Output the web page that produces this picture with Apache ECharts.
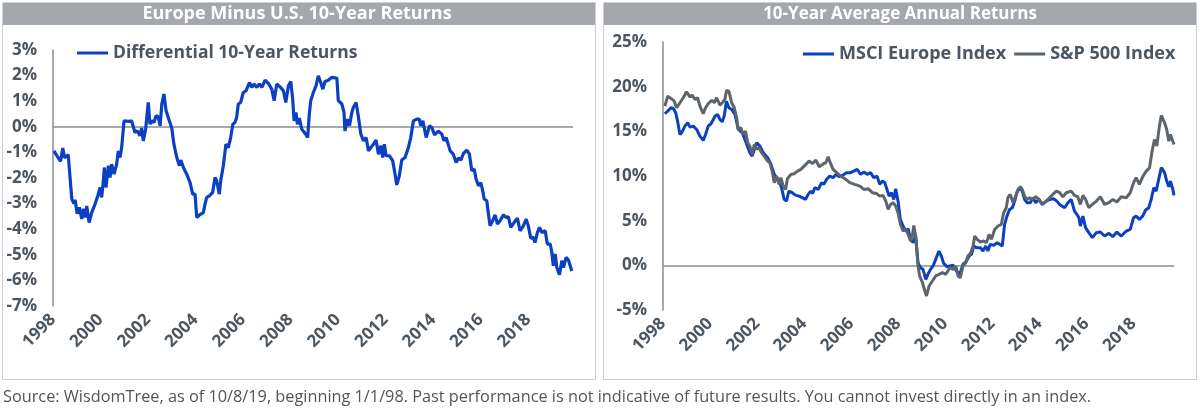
<!DOCTYPE html>
<html>
<head>
<meta charset="utf-8">
<script src="https://cdn.jsdelivr.net/npm/echarts@6/dist/echarts.min.js"></script>
<style>
  html, body { margin: 0; padding: 0; background: #fff; }
  #chart { width: 1200px; height: 413px; }
</style>
</head>
<body>
<div id="chart"></div>
<script>
// Europe minus U.S. differential 10-year returns (%)
const diffYears = [1998.04,1998.16,1998.32,1998.41,1998.49,1998.64,1998.72,1998.79,1998.88,1998.93,
  1999.02,1999.11,1999.21,1999.28,1999.36,1999.42,1999.52,1999.63,1999.77,1999.91,1999.98,
  2000.05,2000.12,2000.16,2000.23,2000.33,2000.40,2000.47,2000.57,2000.68,2000.75,2000.82,2000.89,2000.99,
  2001.07,2001.21,2001.31,2001.45,2001.55,2001.66,2001.73,2001.80,2001.90,
  2002.01,2002.08,2002.16,2002.25,2002.34,2002.43,2002.51,2002.58,2002.67,2002.76,2002.90,
  2003.00,2003.09,2003.21,2003.32,2003.38,2003.49,2003.63,2003.77,2003.88,2003.98,
  2004.05,2004.12,2004.22,2004.33,2004.40,2004.47,2004.58,2004.72,2004.82,2004.89,
  2005.00,2005.06,2005.17,2005.28,2005.38,2005.48,2005.57,2005.66,2005.73,2005.80,2005.90,
  2006.01,2006.13,2006.27,2006.37,2006.46,2006.58,2006.69,2006.79,2006.93,
  2007.07,2007.21,2007.31,2007.42,2007.56,2007.70,2007.80,2007.91,
  2008.01,2008.09,2008.15,2008.23,2008.29,2008.37,2008.47,2008.54,2008.64,2008.72,2008.79,2008.85,2008.96,
  2009.07,2009.17,2009.27,2009.36,2009.45,2009.59,2009.73,2009.95,
  2010.01,2010.16,2010.25,2010.29,2010.39,2010.48,2010.58,2010.64,2010.76,2010.85,2010.96,
  2011.07,2011.18,2011.28,2011.38,2011.49,2011.60,2011.70,2011.80,2011.88,2011.95,
  2012.02,2012.16,2012.30,2012.40,2012.47,2012.58,2012.68,2012.82,2012.96,
  2013.06,2013.17,2013.31,2013.42,2013.48,2013.57,2013.71,2013.85,2013.95,
  2014.06,2014.22,2014.37,2014.46,2014.55,2014.72,2014.85,2014.97,
  2015.07,2015.17,2015.28,2015.42,2015.53,2015.63,2015.73,2015.81,2015.91,
  2016.01,2016.09,2016.15,2016.26,2016.33,2016.40,2016.51,2016.61,2016.71,2016.82,2016.96,
  2017.07,2017.17,2017.27,2017.41,2017.55,2017.66,2017.78,2017.92,
  2018.01,2018.11,2018.22,2018.29,2018.39,2018.48,2018.58,2018.72,2018.81,2018.93,
  2019.00,2019.06,2019.14,2019.21,2019.32,2019.42,2019.49,2019.60,2019.70,2019.84];
const diffValues = [-0.94,-1.13,-1.35,-0.83,-1.21,-1.09,-1.13,-2.81,-3.00,-2.85,
  -3.40,-3.15,-3.60,-3.20,-3.54,-3.09,-3.74,-3.35,-3.02,-2.63,-2.37,
  -2.76,-2.11,-1.59,-2.37,-1.52,-1.98,-1.46,-1.85,-1.46,-0.94,-1.20,-0.81,0.23,
  0.30,0.21,0.23,-0.22,-0.16,-0.35,-0.05,-0.55,-0.09,
  0.95,0.10,0.23,0.17,0.43,0.39,0.04,0.89,1.28,0.63,0.23,
  -0.05,-0.68,-1.20,-1.52,-1.30,-1.59,-1.85,-2.18,-2.63,-2.63,
  -3.54,-3.60,-3.41,-3.35,-3.02,-2.76,-2.70,-2.57,-1.98,-2.11,
  -2.63,-2.11,-1.52,-0.68,-0.81,-0.42,0.10,0.17,0.36,0.89,0.95,
  1.34,1.41,1.73,1.54,1.67,1.54,1.67,1.54,1.82,
  1.69,1.47,1.02,1.67,1.56,1.41,0.95,1.60,
  1.77,1.08,0.23,0.56,0.10,0.34,-0.09,-0.03,-0.29,-0.42,0.50,1.02,1.34,
  1.60,1.99,1.73,1.47,1.77,1.82,1.93,1.90,
  1.02,0.89,0.56,-0.16,0.30,0.04,0.56,0.75,0.95,0.43,-0.29,
  -0.55,-0.42,-0.94,-0.81,-0.68,-0.52,-1.07,-0.74,-1.20,-0.68,
  -1.13,-1.13,-1.33,-1.85,-2.27,-1.91,-1.30,-1.20,-0.81,
  -0.42,0.23,0.30,0.30,0.04,0.23,-0.42,0.04,-0.03,
  -0.32,-0.17,-0.29,-0.55,-0.42,-0.94,-1.07,-1.39,
  -1.22,-1.30,-1.04,-0.91,-1.07,-1.72,-1.65,-2.04,-2.30,
  -2.18,-2.50,-2.82,-2.89,-3.41,-3.87,-3.67,-3.44,-3.80,-3.67,-3.44,
  -3.54,-3.52,-3.93,-3.74,-3.57,-4.06,-3.91,-3.61,
  -3.87,-4.35,-4.32,-4.52,-4.13,-3.93,-4.13,-4.06,-4.58,-4.58,
  -4.91,-5.43,-4.97,-5.50,-5.78,-5.23,-5.50,-5.10,-5.21,-5.63];

// MSCI Europe 10-year average annual return (%)
const euroYears = [1998.08,1998.20,1998.34,1998.44,1998.54,1998.62,1998.72,1998.82,1998.93,
  1999.05,1999.15,1999.29,1999.43,1999.57,1999.71,1999.81,1999.92,
  2000.04,2000.14,2000.21,2000.32,2000.42,2000.52,2000.60,2000.70,2000.80,2000.92,
  2001.06,2001.20,2001.37,2001.51,2001.69,2001.79,2001.98,
  2002.12,2002.26,2002.45,2002.59,2002.73,2002.93,
  2003.04,2003.15,2003.25,2003.35,2003.49,2003.63,2003.78,2003.92,
  2004.06,2004.17,2004.28,2004.36,2004.45,2004.60,2004.74,2004.84,2004.95,
  2005.09,2005.23,2005.35,2005.49,2005.63,2005.80,2005.97,
  2006.11,2006.25,2006.40,2006.54,2006.68,2006.82,2006.96,
  2007.10,2007.21,2007.33,2007.43,2007.52,2007.61,2007.71,2007.81,2007.89,2007.99,
  2008.09,2008.20,2008.32,2008.42,2008.52,2008.63,2008.74,2008.84,2008.94,
  2009.05,2009.17,2009.26,2009.37,2009.48,2009.62,2009.73,2009.83,2009.93,
  2010.07,2010.19,2010.33,2010.47,2010.61,2010.75,2010.90,
  2011.01,2011.11,2011.21,2011.32,2011.49,2011.60,2011.72,2011.81,2011.91,
  2012.06,2012.20,2012.31,2012.42,2012.52,2012.62,2012.73,2012.85,2012.95,
  2013.04,2013.16,2013.27,2013.37,2013.47,2013.61,2013.72,2013.84,2013.98,
  2014.12,2014.29,2014.43,2014.60,2014.74,2014.86,
  2015.07,2015.21,2015.35,2015.49,2015.59,2015.68,2015.74,2015.85,2015.96,
  2016.10,2016.25,2016.42,2016.59,2016.77,2016.95,
  2017.12,2017.29,2017.48,2017.69,2017.86,
  2018.00,2018.11,2018.25,2018.39,2018.51,2018.65,2018.75,2018.86,2018.96,
  2019.07,2019.18,2019.32,2019.41,2019.50,2019.57,2019.67,2019.72];
const euroValues = [16.97,17.26,17.64,17.56,17.08,16.14,14.65,14.96,15.58,
  15.96,15.47,15.58,15.21,14.46,13.98,14.65,15.58,
  15.85,16.33,16.70,16.89,16.33,16.07,16.70,18.38,17.64,17.45,
  16.89,15.21,14.84,13.90,12.61,12.23,13.72,
  13.35,12.61,12.05,11.30,10.18,9.43,
  8.69,7.38,7.19,8.31,8.13,7.86,7.75,7.57,
  7.38,7.94,8.31,8.05,8.69,8.50,9.25,9.06,9.62,
  9.99,9.81,10.18,9.92,10.07,10.37,10.37,
  10.55,10.74,10.18,10.44,10.18,10.37,9.81,
  9.99,9.06,9.43,9.25,8.50,7.75,8.13,7.38,8.58,7.19,
  5.15,4.40,3.84,4.10,2.91,2.54,3.28,0.30,-0.26,
  -0.45,-1.57,-1.01,-0.45,-0.07,0.86,1.60,1.04,0.22,
  -0.15,-0.07,0.00,-0.63,-1.01,0.11,0.48,
  1.04,1.23,2.16,1.98,1.98,1.60,2.16,1.60,2.35,
  2.24,2.54,2.35,2.16,4.59,5.51,6.26,6.45,7.19,
  8.13,8.69,8.31,7.38,7.01,7.01,7.57,7.01,7.38,
  6.82,7.19,7.38,7.46,7.19,6.82,
  6.45,7.01,7.38,6.07,5.70,5.33,4.40,5.51,4.22,
  3.66,3.10,3.66,3.73,3.28,3.58,
  3.21,3.73,3.28,3.84,4.03,
  5.33,5.51,5.15,5.51,6.19,6.45,7.38,8.69,8.31,
  9.62,10.93,10.37,9.43,8.80,9.43,8.50,7.83];

// S&P 500 10-year average annual return (%)
const spxYears = [1998.08,1998.20,1998.34,1998.48,1998.58,1998.72,1998.86,
  1999.00,1999.15,1999.24,1999.36,1999.47,1999.57,1999.71,1999.81,1999.92,
  2000.07,2000.18,2000.28,2000.42,2000.52,2000.63,2000.70,2000.80,2000.92,
  2001.03,2001.13,2001.20,2001.31,2001.41,2001.51,2001.60,2001.69,2001.79,2001.88,2001.98,
  2002.08,2002.19,2002.33,2002.45,2002.54,2002.64,2002.73,2002.83,2002.93,
  2003.01,2003.11,2003.21,2003.29,2003.44,2003.58,2003.72,2003.86,
  2004.03,2004.21,2004.36,2004.50,2004.64,2004.78,2004.92,
  2005.02,2005.12,2005.23,2005.38,2005.55,2005.73,2005.94,
  2006.15,2006.37,2006.54,2006.72,2006.90,
  2007.07,2007.21,2007.35,2007.47,2007.57,2007.67,2007.78,2007.89,2007.99,
  2008.09,2008.20,2008.32,2008.42,2008.52,2008.60,2008.66,2008.74,2008.84,2008.91,
  2009.03,2009.13,2009.20,2009.31,2009.45,2009.59,2009.73,2009.88,
  2010.02,2010.19,2010.33,2010.44,2010.54,2010.64,2010.75,2010.87,2010.96,
  2011.07,2011.18,2011.25,2011.35,2011.49,2011.63,2011.75,2011.86,2011.96,
  2012.10,2012.24,2012.38,2012.48,2012.59,2012.66,2012.76,2012.88,2012.99,
  2013.09,2013.19,2013.27,2013.37,2013.47,2013.58,2013.70,2013.84,2013.98,
  2014.12,2014.29,2014.43,2014.57,2014.72,2014.86,
  2015.00,2015.14,2015.35,2015.49,2015.63,2015.74,2015.85,2015.96,
  2016.10,2016.25,2016.42,2016.59,2016.77,2016.95,
  2017.12,2017.29,2017.48,2017.69,2017.86,
  2018.00,2018.11,2018.25,2018.39,2018.54,2018.68,2018.79,2018.89,2018.99,
  2019.10,2019.18,2019.32,2019.41,2019.50,2019.57,2019.67,2019.72];
const spxValues = [17.82,18.94,18.68,18.38,17.64,18.20,18.76,
  19.43,18.83,19.05,18.57,18.76,17.82,16.97,17.64,18.09,
  18.46,18.20,18.76,17.93,18.20,18.57,19.57,19.50,18.20,
  17.64,16.52,15.21,15.40,14.65,15.02,13.72,13.35,12.42,13.53,12.98,
  13.17,12.61,12.12,11.67,11.49,10.55,9.25,9.99,9.06,
  9.81,8.87,8.50,9.73,10.18,10.26,10.55,10.74,
  11.19,11.67,11.41,11.78,11.04,11.30,11.49,
  12.16,11.41,10.74,10.37,9.99,9.70,9.25,
  9.06,8.87,8.50,8.58,8.13,
  8.05,7.75,7.83,7.19,6.26,6.82,7.01,6.63,5.89,
  4.59,3.84,4.03,3.47,2.72,3.28,4.47,3.28,-0.07,-1.19,
  -1.94,-2.87,-3.43,-2.31,-1.75,-1.19,-1.01,-0.82,
  -1.01,-0.26,-0.45,-0.07,-1.19,-1.38,-0.07,0.30,1.04,
  1.34,2.16,3.28,2.91,2.61,2.72,2.54,3.47,2.91,
  4.03,4.40,4.59,5.89,6.45,7.57,7.94,7.01,7.75,
  8.50,8.80,8.50,7.75,7.38,7.57,7.38,7.68,7.38,
  6.82,7.19,7.57,7.94,8.31,8.13,
  7.68,8.13,8.31,7.83,7.68,6.82,7.83,7.38,
  6.45,6.82,7.19,7.68,6.82,7.01,
  7.38,7.08,7.68,7.57,8.13,
  9.25,9.81,9.06,9.92,10.55,10.93,12.79,14.09,13.35,
  15.58,16.78,15.96,15.21,13.90,14.65,13.90,13.53];

const BLUE = '#0b40c2'
const GRAY = '#5d656c'
const AXIS = '#8a8e92'
const TEXT = '#4b5661'
const FONT = '"Open Sans", "Noto Sans", sans-serif'

const pairs = (xs, ys) => xs.map((x, i) => [x, ys[i]])

// year labels along the bottom of a panel
function yearAxis (grid, max) {
  return {
    type: 'value', gridIndex: grid, min: 1998, max: max, interval: 2,
    axisLine: { show: false }, axisTick: { show: false }, splitLine: { show: false },
    axisLabel: {
      rotate: 45, showMaxLabel: false, margin: 11,
      color: TEXT, fontSize: 17, fontWeight: 'bold', fontFamily: FONT,
      formatter: v => String(Math.round(v))
    }
  }
}
function pctAxis (grid, min, max, step) {
  return {
    type: 'value', gridIndex: grid, min: min, max: max, interval: step,
    axisLine: { show: true, onZero: false, lineStyle: { color: AXIS, width: 1.5 } },
    axisTick: { show: false }, splitLine: { show: false },
    axisLabel: { margin: 16, color: TEXT, fontSize: 17, fontWeight: 'bold', fontFamily: FONT, formatter: '{value}%' }
  }
}
// 0% reference line, drawn under the data
const zeroLine = {
  silent: true, symbol: 'none', z: 1,
  label: { show: false },
  lineStyle: { color: AXIS, width: 1.5, type: 'solid' },
  data: [{ yAxis: 0 }]
}

const chart = echarts.init(document.getElementById('chart'), null, { renderer: 'canvas' })

chart.setOption({
  animation: false,
  backgroundColor: '#fff',
  textStyle: { fontFamily: FONT },
  graphic: [
    { type: 'rect', shape: { x: 2.5, y: 2.5, width: 593, height: 377 }, style: { fill: 'none', stroke: '#cdcfd1', lineWidth: 1 } },
    { type: 'rect', shape: { x: 3, y: 3, width: 592, height: 22 }, style: { fill: '#a4a8ac' } },
    { type: 'text', x: 297, y: 14, style: { text: 'Europe Minus U.S. 10-Year Returns', fill: '#fff', font: 'bold 18px ' + FONT, textAlign: 'center', textVerticalAlign: 'middle' } },
    { type: 'rect', shape: { x: 603.5, y: 2.5, width: 593, height: 377 }, style: { fill: 'none', stroke: '#cdcfd1', lineWidth: 1 } },
    { type: 'rect', shape: { x: 604, y: 3, width: 592, height: 22 }, style: { fill: '#a4a8ac' } },
    { type: 'text', x: 900, y: 14, style: { text: '10-Year Average Annual Returns', fill: '#fff', font: 'bold 17px ' + FONT, textAlign: 'center', textVerticalAlign: 'middle' } },
    { type: 'text', x: 3, y: 397, style: { text: 'Source: WisdomTree, as of 10/8/19, beginning 1/1/98. Past performance is not indicative of future results. You cannot invest directly in an index.', fill: '#50565c', font: '16.3px ' + FONT, textVerticalAlign: 'middle' } }
  ],
  legend: [
    {
      data: ['Differential 10-Year Returns'], left: 77, top: 44, padding: 0,
      icon: 'rect', itemWidth: 31, itemHeight: 3,
      textStyle: { color: TEXT, fontSize: 17.5, fontWeight: 'bold', fontFamily: FONT }
    },
    {
      data: ['MSCI Europe Index', 'S&P 500 Index'], left: 803, top: 45, padding: 0, itemGap: 8,
      icon: 'rect', itemWidth: 31, itemHeight: 3,
      textStyle: { color: TEXT, fontSize: 18, fontWeight: 'bold', fontFamily: FONT }
    }
  ],
  grid: [
    { left: 53, top: 50, width: 520, height: 256 },
    { left: 663, top: 42, width: 511, height: 268 }
  ],
  xAxis: [yearAxis(0, 2019.89), yearAxis(1, 2019.72)],
  yAxis: [pctAxis(0, -7, 3, 1), pctAxis(1, -5, 25, 5)],
  series: [
    {
      name: 'Differential 10-Year Returns', type: 'line', xAxisIndex: 0, yAxisIndex: 0,
      data: pairs(diffYears, diffValues), showSymbol: false, symbol: 'none',
      color: BLUE, lineStyle: { color: BLUE, width: 3.2 },
      markLine: zeroLine
    },
    {
      name: 'MSCI Europe Index', type: 'line', xAxisIndex: 1, yAxisIndex: 1,
      data: pairs(euroYears, euroValues), showSymbol: false, symbol: 'none',
      color: BLUE, lineStyle: { color: BLUE, width: 3 },
      markLine: zeroLine
    },
    {
      name: 'S&P 500 Index', type: 'line', xAxisIndex: 1, yAxisIndex: 1,
      data: pairs(spxYears, spxValues), showSymbol: false, symbol: 'none',
      color: GRAY, lineStyle: { color: GRAY, width: 3 }
    }
  ]
})
</script>
</body>
</html>
